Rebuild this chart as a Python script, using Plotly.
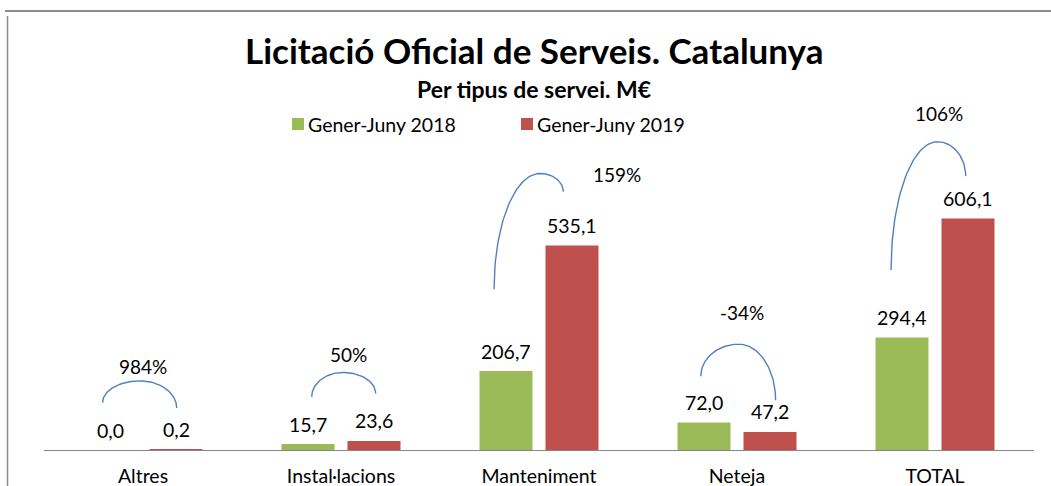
import numpy as np
import plotly.graph_objects as go

# ---------------- data ----------------
categories = ["Altres", "Instal·lacions", "Manteniment", "Neteja", "TOTAL"]
series_names = ["Gener-Juny 2018", "Gener-Juny 2019"]
values_2018 = [0.0, 15.7, 206.7, 72.0, 294.4]
values_2019 = [0.2, 23.6, 535.1, 47.2, 606.1]
change_labels = ["984%", "50%", "159%", "-34%", "106%"]

# ---------------- layout constants ----------------
W, H = 1051, 486
ML, MR, MT, MB = 44, 17, 100, 36
PX_PER_UNIT = 0.382
YMAX = (H - MT - MB) / PX_PER_UNIT

GREEN = "#9BBB59"
RED = "#C0504D"
BLUE = "#4F81BD"
FONT = "Lato"
NUM_SIZE = 19.5
PCT_SIZE = 19
TXT_SIZE = 19.5

# arc geometry (offset from category centre, value-axis height)
arc_left_dx = [-0.204, -0.148, -0.227, -0.183, -0.222]
arc_left_y = [124, 139, 421, 193, 471]
arc_peak_dx = [-0.015, 0.010, 0.005, 0.009, 0.012]
arc_peak_y = [181, 203, 724, 277, 807]
arc_right_dx = [0.170, 0.175, 0.123, 0.195, 0.155]
arc_right_y = [110, 148, 676, 130, 717]
# change-label positions
label_dx = [0.0, 0.037, 0.392, 0.025, 0.020]
label_y = [218, 249, 720, 359, 880]


def px_x(p):
    return (p - ML) / (W - ML - MR)


def px_y(p):
    return (H - MB - p) / (H - MT - MB)


fig = go.Figure()
x_idx = list(range(len(categories)))
fig.add_trace(go.Bar(x=x_idx, y=values_2018, name=series_names[0],
                     marker=dict(color=GREEN, line=dict(width=0)), hoverinfo="skip"))
fig.add_trace(go.Bar(x=x_idx, y=values_2019, name=series_names[1],
                     marker=dict(color=RED, line=dict(width=0)), hoverinfo="skip"))

# arcs: two quarter-ellipse pieces
t = np.linspace(0, np.pi / 2, 40)
for i in x_idx:
    x0 = i + arc_left_dx[i]
    xp = i + arc_peak_dx[i]
    x1 = i + arc_right_dx[i]
    y0, yp, y1 = arc_left_y[i], arc_peak_y[i], arc_right_y[i]
    xa = xp - (xp - x0) * np.cos(t)
    ya = y0 + (yp - y0) * np.sin(t)
    xb = xp + (x1 - xp) * np.sin(t)
    yb = yp - (yp - y1) * (1 - np.cos(t))
    fig.add_trace(go.Scatter(x=np.concatenate([xa, xb[1:]]), y=np.concatenate([ya, yb[1:]]),
                             mode="lines", line=dict(color=BLUE, width=1.4),
                             showlegend=False, hoverinfo="skip"))

annotations = []
fmt = lambda v: f"{v:.1f}".replace(".", ",")
for i in x_idx:
    annotations.append(dict(x=i - 1 / 6, y=values_2018[i], text=fmt(values_2018[i]),
                            showarrow=False, yanchor="middle", yshift=20,
                            font=dict(size=NUM_SIZE, color="#000", family=FONT)))
    annotations.append(dict(x=i + 1 / 6, y=values_2019[i], text=fmt(values_2019[i]),
                            showarrow=False, yanchor="middle", yshift=20,
                            font=dict(size=NUM_SIZE, color="#000", family=FONT)))
    annotations.append(dict(x=i + label_dx[i], y=label_y[i], text=change_labels[i],
                            showarrow=False, yanchor="middle",
                            font=dict(size=PCT_SIZE, color="#000", family=FONT)))

# titles
annotations.append(dict(xref="paper", yref="paper", x=px_x(534), y=px_y(50),
                        text="<b>Licitació Oficial de Serveis. Catalunya</b>", showarrow=False,
                        xanchor="center", yanchor="middle",
                        font=dict(size=35, color="#000", family=FONT)))
annotations.append(dict(xref="paper", yref="paper", x=px_x(534), y=px_y(89),
                        text="<b>Per tipus de servei. M€</b>", showarrow=False,
                        xanchor="center", yanchor="middle",
                        font=dict(size=23, color="#000", family=FONT)))

# manual legend
shapes = []
for name, col, sx in [(series_names[0], GREEN, 292), (series_names[1], RED, 521)]:
    shapes.append(dict(type="rect", xref="paper", yref="paper",
                       x0=px_x(sx), x1=px_x(sx + 12), y0=px_y(130), y1=px_y(118),
                       fillcolor=col, line=dict(width=0)))
    annotations.append(dict(xref="paper", yref="paper", x=px_x(sx + 14), y=px_y(124),
                            text=name, showarrow=False, xanchor="left", yanchor="middle",
                            font=dict(size=TXT_SIZE, color="#000", family=FONT)))

# frame lines
shapes.append(dict(type="line", xref="paper", yref="paper", x0=px_x(5), x1=px_x(1051),
                   y0=px_y(11), y1=px_y(11), line=dict(color="#8c8c8c", width=2)))
shapes.append(dict(type="line", xref="paper", yref="paper", x0=px_x(7.5), x1=px_x(7.5),
                   y0=px_y(16), y1=px_y(486), line=dict(color="#8c8c8c", width=1.5)))

fig.update_layout(
    width=W, height=H, autosize=False,
    margin=dict(l=ML, r=MR, t=MT, b=MB, pad=0, autoexpand=False),
    paper_bgcolor="white", plot_bgcolor="white",
    barmode="group", bargap=1 / 3, bargroupgap=0.197,
    showlegend=False,
    font=dict(family=FONT, size=TXT_SIZE, color="#000"),
    xaxis=dict(range=[-0.5, len(categories) - 0.5], tickvals=x_idx, ticktext=categories,
               showgrid=False, zeroline=False, showline=True, linecolor="#868686",
               linewidth=1.3, ticks="", tickfont=dict(size=TXT_SIZE, family=FONT, color="#000"),
               ticklabelstandoff=8, automargin=False),
    yaxis=dict(range=[0, YMAX], visible=False, showgrid=False, zeroline=False, automargin=False),
    annotations=annotations,
    shapes=shapes,
)

page_fix = (
    "document.documentElement.style.margin='0';"
    "document.documentElement.style.padding='0';"
    "document.documentElement.style.overflow='hidden';"
    "document.body.style.margin='0';"
    "document.body.style.padding='0';"
    "document.body.style.overflow='hidden';"
)
fig.write_html("out.html", post_script=page_fix, config={"displayModeBar": False})
